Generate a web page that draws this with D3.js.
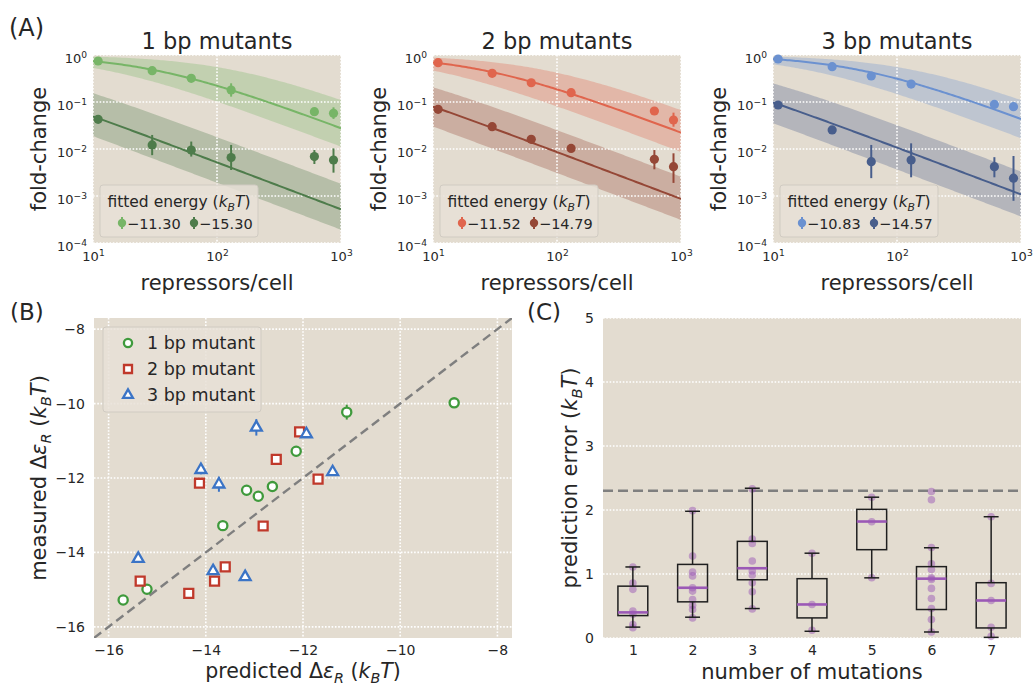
<!DOCTYPE html>
<html>
<head>
<meta charset="utf-8">
<script src="https://cdn.jsdelivr.net/npm/d3@7"></script>
<style>
  body { margin: 0; background: #ffffff; }
  svg { font-family: "DejaVu Sans", sans-serif; }
</style>
</head>
<body>
<svg id="fig" width="1033" height="685"></svg>
<script>
// ---------------- data ----------------
// (A) titration curves
const repressors = [11, 30, 62, 130, 610, 870];
const panelTitles = ["1 bp mutants", "2 bp mutants", "3 bp mutants"];
const fittedEnergy = [[-11.30, -15.30], [-11.52, -14.79], [-10.83, -14.57]];
// credible range of binding energy used for the shaded regions [low, high]
const credibleEnergy = [
  [[-12.22, -9.83], [-16.30, -14.05]],
  [[-12.48, -10.37], [-15.82, -13.70]],
  [[-11.80, -9.83], [-15.65, -13.45]]
];
const Nns = 4.6e6;

const fc1bpWeak   = [0.745, 0.463, 0.319, 0.18, 0.0622, 0.0575];
const fc1bpWeakLo = [0.72, 0.44, 0.30, 0.13, 0.056, 0.0436];
const fc1bpWeakHi = [0.77, 0.49, 0.34, 0.25, 0.069, 0.077];
const fc1bpStrong   = [0.0428, 0.0122, 0.0095, 0.0066, 0.0069, 0.00583];
const fc1bpStrongLo = [0.040, 0.0074, 0.0069, 0.00357, 0.0048, 0.00314];
const fc1bpStrongHi = [0.046, 0.0199, 0.0144, 0.0122, 0.0095, 0.0103];

const fc2bpWeak   = [0.687, 0.407, 0.257, 0.158, 0.0644, 0.0414];
const fc2bpWeakLo = [0.67, 0.39, 0.245, 0.15, 0.060, 0.0298];
const fc2bpWeakHi = [0.705, 0.425, 0.27, 0.166, 0.069, 0.0593];
const fc2bpStrong   = [0.0699, 0.0298, 0.0161, 0.0103, 0.00603, 0.0042];
const fc2bpStrongLo = [0.066, 0.028, 0.015, 0.0097, 0.0037, 0.0019];
const fc2bpStrongHi = [0.074, 0.0316, 0.0172, 0.011, 0.0095, 0.0081];

const fc3bpWeak   = [0.822, 0.565, 0.357, 0.241, 0.089, 0.0794];
const fc3bpWeakLo = [0.80, 0.55, 0.345, 0.232, 0.085, 0.076];
const fc3bpWeakHi = [0.845, 0.58, 0.37, 0.25, 0.093, 0.083];
const fc3bpStrong   = [0.0863, 0.0254, 0.00537, 0.00583, 0.0042, 0.0024];
const fc3bpStrongLo = [0.082, 0.0238, 0.0024, 0.0025, 0.0025, 0.00079];
const fc3bpStrongHi = [0.091, 0.027, 0.0122, 0.0132, 0.0067, 0.0071];

const logTicksX = [10, 100, 1000];
const logTicksY = [1e-4, 1e-3, 1e-2, 1e-1, 1];

// (B) predicted vs measured binding energies
const pred1bp = [-15.70, -15.21, -13.65, -13.16, -12.92, -12.63, -12.14, -11.10, -8.89];
const meas1bp = [-15.28, -14.99, -13.28, -12.33, -12.49, -12.23, -11.28, -10.23, -9.98];
const err1bp  = [0.05, 0.05, 0.05, 0.05, 0.05, 0.05, 0.05, 0.20, 0.05];
const pred2bp = [-15.35, -14.35, -14.13, -13.82, -13.60, -12.82, -12.55, -12.07, -11.69];
const meas2bp = [-14.77, -15.10, -12.14, -14.77, -14.39, -13.29, -11.50, -10.76, -12.03];
const err2bp  = [0.05, 0.05, 0.05, 0.05, 0.05, 0.05, 0.05, 0.05, 0.05];
const pred3bp = [-15.39, -14.10, -13.85, -13.73, -13.19, -12.96, -11.93, -11.39];
const meas3bp = [-14.17, -11.78, -14.50, -12.17, -14.66, -10.64, -10.82, -11.84];
const err3bp  = [0.05, 0.12, 0.05, 0.20, 0.05, 0.22, 0.10, 0.05];
const energyTicks = [-16, -14, -12, -10, -8];
const mutantLabels = ["1 bp mutant", "2 bp mutant", "3 bp mutant"];

// (C) prediction error by number of mutations
const mutationCounts = [1, 2, 3, 4, 5, 6, 7];
const predictionErrors = [
  [1.11, 0.86, 0.76, 0.42, 0.37, 0.21, 0.16],
  [1.99, 1.28, 1.03, 0.97, 0.785, 0.733, 0.60, 0.51, 0.445, 0.314],
  [2.33, 1.545, 1.476, 1.204, 1.047, 0.984, 0.864, 0.723, 0.455],
  [1.325, 0.524, 0.12],
  [2.20, 1.817, 0.942],
  [2.29, 2.16, 1.414, 1.16, 1.07, 0.942, 0.916, 0.775, 0.618, 0.461, 0.288, 0.094],
  [1.895, 0.853, 0.586, 0.168, 0.026]
];
const whiskerLow  = [0.17, 0.325, 0.46, 0.105, 0.94, 0.094, 0.01];
const quartile1   = [0.35, 0.565, 0.91, 0.314, 1.38, 0.445, 0.157];
const medianError = [0.40, 0.785, 1.09, 0.524, 1.82, 0.927, 0.586];
const quartile3   = [0.81, 1.15, 1.51, 0.927, 2.01, 1.115, 0.864];
const whiskerHigh = [1.11, 1.98, 2.34, 1.325, 2.20, 1.41, 1.895];
const errorThreshold = 2.3;
const errorTicks = [0, 1, 2, 3, 4, 5];

// ---------------- style ----------------
const BG = "#e3dcd0";
const TEXT = "#262626";
const weakColors = ["#77b567", "#e0654d", "#6b91d0"];
const strongColors = ["#4e7c4b", "#954736", "#485e8c"];
const symbolColors = ["#3f9a3c", "#c0392b", "#3b74c6"];
const boxPurple = "#9b59b6";

const svg = d3.select("#fig");

// text helper for sub/superscripts and italics
function richText(sel, parts, size) {
  let shift = 0;
  parts.forEach(p => {
    const target = p.sub ? size * 0.25 : p.sup ? -size * 0.42 : 0;
    const ts = sel.append("tspan").text(p.t);
    if (target !== shift) ts.attr("dy", target - shift);
    shift = target;
    if (p.sub || p.sup) ts.attr("font-size", size * 0.7);
    if (p.it) ts.attr("font-style", "italic");
  });
}
const kBT = [{ t: "(" }, { t: "k", it: true }, { t: "B", it: true, sub: true }, { t: "T", it: true }, { t: ")" }];
const dEps = [{ t: "Δ" }, { t: "ε", it: true }, { t: "R", it: true, sub: true }, { t: " " }];

function gridDots(sel) {
  sel.attr("stroke", "#ffffff").attr("stroke-width", 1.6)
     .attr("stroke-dasharray", "1.6,1.7").attr("fill", "none");
}

function styleAxis(g, size) {
  g.select(".domain").remove();
  g.selectAll(".tick line").remove();
  g.attr("font-family", null).attr("font-size", size);
  g.selectAll(".tick text").attr("fill", TEXT);
}

function powerLabels(g, size) {
  g.selectAll(".tick text").each(function (d) {
    const t = d3.select(this);
    t.text(null);
    const e = Math.round(Math.log10(d));
    richText(t, [{ t: "10" }, { t: String(e).replace("-", "−"), sup: true }], size);
  });
}

const foldChange = (R, eps) => 1 / (1 + 2 * R / Nns * Math.exp(-eps));

// ---------------- (A) ----------------
const aLeft = [93, 433, 773], aW = 248, aTop = 55, aH = 188;
const seriesA = [
  [[fc1bpWeak, fc1bpWeakLo, fc1bpWeakHi], [fc1bpStrong, fc1bpStrongLo, fc1bpStrongHi]],
  [[fc2bpWeak, fc2bpWeakLo, fc2bpWeakHi], [fc2bpStrong, fc2bpStrongLo, fc2bpStrongHi]],
  [[fc3bpWeak, fc3bpWeakLo, fc3bpWeakHi], [fc3bpStrong, fc3bpStrongLo, fc3bpStrongHi]]
];
const curveR = d3.range(0, 121).map(k => Math.pow(10, 1 + k / 60));

panelTitles.forEach((title, i) => {
  const g = svg.append("g").attr("transform", `translate(${aLeft[i]},${aTop})`);
  const x = d3.scaleLog().domain([10, 1000]).range([0, aW]);
  const y = d3.scaleLog().domain([1e-4, 1]).range([aH, 0]);
  const colors = [weakColors[i], strongColors[i]];

  g.append("rect").attr("width", aW).attr("height", aH).attr("fill", BG);

  const clipId = "clipA" + i;
  g.append("clipPath").attr("id", clipId).append("rect").attr("width", aW).attr("height", aH);
  const plot = g.append("g").attr("clip-path", `url(#${clipId})`);

  // shaded credible regions
  credibleEnergy[i].forEach((range, s) => {
    const area = d3.area()
      .x(R => x(R))
      .y0(R => y(foldChange(R, range[0])))
      .y1(R => y(foldChange(R, range[1])));
    plot.append("path").datum(curveR).attr("d", area)
      .attr("fill", colors[s]).attr("fill-opacity", 0.3);
  });

  // grid
  plot.selectAll(".gx").data(logTicksX).join("line")
    .attr("x1", d => x(d)).attr("x2", d => x(d)).attr("y1", 0).attr("y2", aH).call(gridDots);
  plot.selectAll(".gy").data(logTicksY).join("line")
    .attr("y1", d => y(d)).attr("y2", d => y(d)).attr("x1", 0).attr("x2", aW).call(gridDots);

  // theory curves at the fitted energies
  fittedEnergy[i].forEach((eps, s) => {
    const line = d3.line().x(R => x(R)).y(R => y(foldChange(R, eps)));
    plot.append("path").datum(curveR).attr("d", line)
      .attr("fill", "none").attr("stroke", colors[s]).attr("stroke-width", 2);
  });

  // measured points with error bars
  seriesA[i].forEach(([mean, lo, hi], s) => {
    const pts = repressors.map((R, k) => ({ R, m: mean[k], lo: lo[k], hi: hi[k] }));
    g.selectAll(null).data(pts).join("line")
      .attr("x1", d => x(d.R)).attr("x2", d => x(d.R))
      .attr("y1", d => y(d.lo)).attr("y2", d => y(d.hi))
      .attr("stroke", colors[s]).attr("stroke-width", 2);
    g.selectAll(null).data(pts).join("circle")
      .attr("cx", d => x(d.R)).attr("cy", d => y(d.m)).attr("r", 4.6)
      .attr("fill", colors[s]);
  });

  // axes
  const ax = g.append("g").attr("transform", `translate(0,${aH})`)
    .call(d3.axisBottom(x).tickValues(logTicksX).tickSize(0).tickPadding(9));
  styleAxis(ax, 13); powerLabels(ax, 13);
  const ay = g.append("g")
    .call(d3.axisLeft(y).tickValues(logTicksY).tickSize(0).tickPadding(6));
  styleAxis(ay, 13); powerLabels(ay, 13);
  ay.selectAll(".tick text").attr("dy", "0.6em");

  g.append("text").attr("x", aW / 2).attr("y", -6).attr("text-anchor", "middle")
    .attr("font-size", 22.5).attr("fill", TEXT).text(title);
  g.append("text").attr("x", aW / 2).attr("y", aH + 47).attr("text-anchor", "middle")
    .attr("font-size", 21).attr("fill", TEXT).text("repressors/cell");
  g.append("text").attr("transform", `translate(-47,${aH / 2}) rotate(-90)`)
    .attr("text-anchor", "middle").attr("font-size", 21).attr("fill", TEXT).text("fold-change");

  // legend
  const lg = g.append("g").attr("transform", "translate(7,130)");
  lg.append("rect").attr("width", 158).attr("height", 52).attr("rx", 3)
    .attr("fill", "#e7e1d7").attr("fill-opacity", 0.85).attr("stroke", "#d0cbc2");
  const lt = lg.append("text").attr("x", 79).attr("y", 22).attr("text-anchor", "middle")
    .attr("font-size", 15.5).attr("fill", TEXT);
  richText(lt, [{ t: "fitted energy " }].concat(kBT), 15.5);
  fittedEnergy[i].forEach((eps, s) => {
    const ex = 22 + s * 72;
    lg.append("line").attr("x1", ex).attr("x2", ex).attr("y1", 32).attr("y2", 44)
      .attr("stroke", colors[s]).attr("stroke-width", 2);
    lg.append("circle").attr("cx", ex).attr("cy", 38).attr("r", 4.2).attr("fill", colors[s]);
    lg.append("text").attr("x", ex + 5).attr("y", 44).attr("font-size", 14.5).attr("fill", TEXT)
      .text(eps.toFixed(2).replace("-", "−"));
  });
});

svg.append("text").attr("x", 9).attr("y", 36).attr("font-size", 24).attr("fill", TEXT).text("(A)");

// ---------------- (B) ----------------
{
  const L = 94, R = 512, T = 318, B = 638;
  const x = d3.scaleLinear().domain([-16.3, -7.7]).range([L, R]);
  const y = d3.scaleLinear().domain([-16.3, -7.7]).range([B, T]);
  const g = svg.append("g");
  g.append("rect").attr("x", L).attr("y", T).attr("width", R - L).attr("height", B - T).attr("fill", BG);
  g.append("clipPath").attr("id", "clipB").append("rect")
    .attr("x", L).attr("y", T).attr("width", R - L).attr("height", B - T);
  const plot = g.append("g").attr("clip-path", "url(#clipB)");

  plot.selectAll(null).data(energyTicks).join("line")
    .attr("x1", d => x(d)).attr("x2", d => x(d)).attr("y1", T).attr("y2", B).call(gridDots);
  plot.selectAll(null).data(energyTicks).join("line")
    .attr("y1", d => y(d)).attr("y2", d => y(d)).attr("x1", L).attr("x2", R).call(gridDots);

  // identity line
  plot.append("line").attr("x1", x(-16.3)).attr("y1", y(-16.3)).attr("x2", x(-7.7)).attr("y2", y(-7.7))
    .attr("stroke", "#7f7f7f").attr("stroke-width", 2.4).attr("stroke-dasharray", "9,5");

  const sets = [[pred1bp, meas1bp, err1bp], [pred2bp, meas2bp, err2bp], [pred3bp, meas3bp, err3bp]];
  const symbols = [d3.symbolCircle, d3.symbolSquare, d3.symbolTriangle];
  const sizes = [66, 80, 52];
  sets.forEach(([px, my, er], s) => {
    const pts = px.map((v, k) => ({ x: v, y: my[k], e: er[k] }));
    plot.selectAll(null).data(pts).join("line")
      .attr("x1", d => x(d.x)).attr("x2", d => x(d.x))
      .attr("y1", d => y(d.y - d.e)).attr("y2", d => y(d.y + d.e))
      .attr("stroke", symbolColors[s]).attr("stroke-width", 2);
    plot.selectAll(null).data(pts).join("path")
      .attr("transform", d => `translate(${x(d.x)},${y(d.y)})`)
      .attr("d", d3.symbol().type(symbols[s]).size(sizes[s]))
      .attr("fill", "#ffffff").attr("stroke", symbolColors[s]).attr("stroke-width", 2.3);
  });

  const ax = g.append("g").attr("transform", `translate(0,${B})`)
    .call(d3.axisBottom(x).tickValues(energyTicks).tickSize(0).tickPadding(7)
      .tickFormat(d => String(d).replace("-", "−")));
  styleAxis(ax, 14);
  const ay = g.append("g").attr("transform", `translate(${L},0)`)
    .call(d3.axisLeft(y).tickValues(energyTicks).tickSize(0).tickPadding(9)
      .tickFormat(d => String(d).replace("-", "−")));
  styleAxis(ay, 14);

  const xl = g.append("text").attr("x", (L + R) / 2).attr("y", 678).attr("text-anchor", "middle")
    .attr("font-size", 20.5).attr("fill", TEXT);
  richText(xl, [{ t: "predicted " }].concat(dEps, kBT), 20.5);
  const yl = g.append("text").attr("transform", `translate(46,${(T + B) / 2}) rotate(-90)`)
    .attr("text-anchor", "middle").attr("font-size", 21).attr("fill", TEXT);
  richText(yl, [{ t: "measured " }].concat(dEps, kBT), 21);

  // legend
  const lg = g.append("g").attr("transform", "translate(103,327)");
  lg.append("rect").attr("width", 158).attr("height", 85).attr("rx", 3)
    .attr("fill", "#e7e1d7").attr("fill-opacity", 0.85).attr("stroke", "#d0cbc2");
  mutantLabels.forEach((lab, s) => {
    const cy = 16 + s * 26;
    lg.append("path").attr("transform", `translate(25,${cy})`)
      .attr("d", d3.symbol().type(symbols[s]).size(sizes[s] * 0.8))
      .attr("fill", "#ffffff").attr("stroke", symbolColors[s]).attr("stroke-width", 2.3);
    lg.append("text").attr("x", 44).attr("y", cy + 6).attr("font-size", 17.5).attr("fill", TEXT).text(lab);
  });
}
svg.append("text").attr("x", 10).attr("y", 320).attr("font-size", 23).attr("fill", TEXT).text("(B)");

// ---------------- (C) ----------------
{
  const L = 603, R = 1021, T = 318, B = 638;
  const x = d3.scaleLinear().domain([0.5, 7.5]).range([L, R]);
  const y = d3.scaleLinear().domain([0, 5]).range([B, T]);
  const g = svg.append("g");
  g.append("rect").attr("x", L).attr("y", T).attr("width", R - L).attr("height", B - T).attr("fill", BG);
  g.selectAll(null).data(errorTicks).join("line")
    .attr("y1", d => y(d)).attr("y2", d => y(d)).attr("x1", L).attr("x2", R).call(gridDots);

  g.append("line").attr("x1", L).attr("x2", R)
    .attr("y1", y(errorThreshold)).attr("y2", y(errorThreshold))
    .attr("stroke", "#7f7f7f").attr("stroke-width", 2.4).attr("stroke-dasharray", "10,5");

  const bw = x(0.25) - x(0), cw = x(0.125) - x(0);
  mutationCounts.forEach((n, k) => {
    const cx = x(n);
    g.selectAll(null).data(predictionErrors[k]).join("circle")
      .attr("cx", cx).attr("cy", d => y(d)).attr("r", 3.8)
      .attr("fill", boxPurple).attr("fill-opacity", 0.5);
    const box = g.append("g").attr("stroke", "#1f1f1f").attr("stroke-width", 1.5).attr("fill", "none");
    box.append("rect").attr("x", cx - bw).attr("width", 2 * bw)
      .attr("y", y(quartile3[k])).attr("height", y(quartile1[k]) - y(quartile3[k]));
    box.append("line").attr("x1", cx).attr("x2", cx).attr("y1", y(quartile3[k])).attr("y2", y(whiskerHigh[k]));
    box.append("line").attr("x1", cx).attr("x2", cx).attr("y1", y(quartile1[k])).attr("y2", y(whiskerLow[k]));
    box.append("line").attr("x1", cx - cw).attr("x2", cx + cw).attr("y1", y(whiskerHigh[k])).attr("y2", y(whiskerHigh[k]));
    box.append("line").attr("x1", cx - cw).attr("x2", cx + cw).attr("y1", y(whiskerLow[k])).attr("y2", y(whiskerLow[k]));
    g.append("line").attr("x1", cx - bw).attr("x2", cx + bw)
      .attr("y1", y(medianError[k])).attr("y2", y(medianError[k]))
      .attr("stroke", boxPurple).attr("stroke-width", 2.6);
  });

  const ax = g.append("g").attr("transform", `translate(0,${B})`)
    .call(d3.axisBottom(x).tickValues(mutationCounts).tickSize(0).tickPadding(7).tickFormat(d3.format("d")));
  styleAxis(ax, 14);
  const ay = g.append("g").attr("transform", `translate(${L},0)`)
    .call(d3.axisLeft(y).tickValues(errorTicks).tickSize(0).tickPadding(9).tickFormat(d3.format("d")));
  styleAxis(ay, 14);

  g.append("text").attr("x", (L + R) / 2).attr("y", 679).attr("text-anchor", "middle")
    .attr("font-size", 21).attr("fill", TEXT).text("number of mutations");
  const yl = g.append("text").attr("transform", `translate(577,${(T + B) / 2}) rotate(-90)`)
    .attr("text-anchor", "middle").attr("font-size", 21).attr("fill", TEXT);
  richText(yl, [{ t: "prediction error " }].concat(kBT), 21);
}
svg.append("text").attr("x", 527).attr("y", 320).attr("font-size", 23).attr("fill", TEXT).text("(C)");
</script>
</body>
</html>
